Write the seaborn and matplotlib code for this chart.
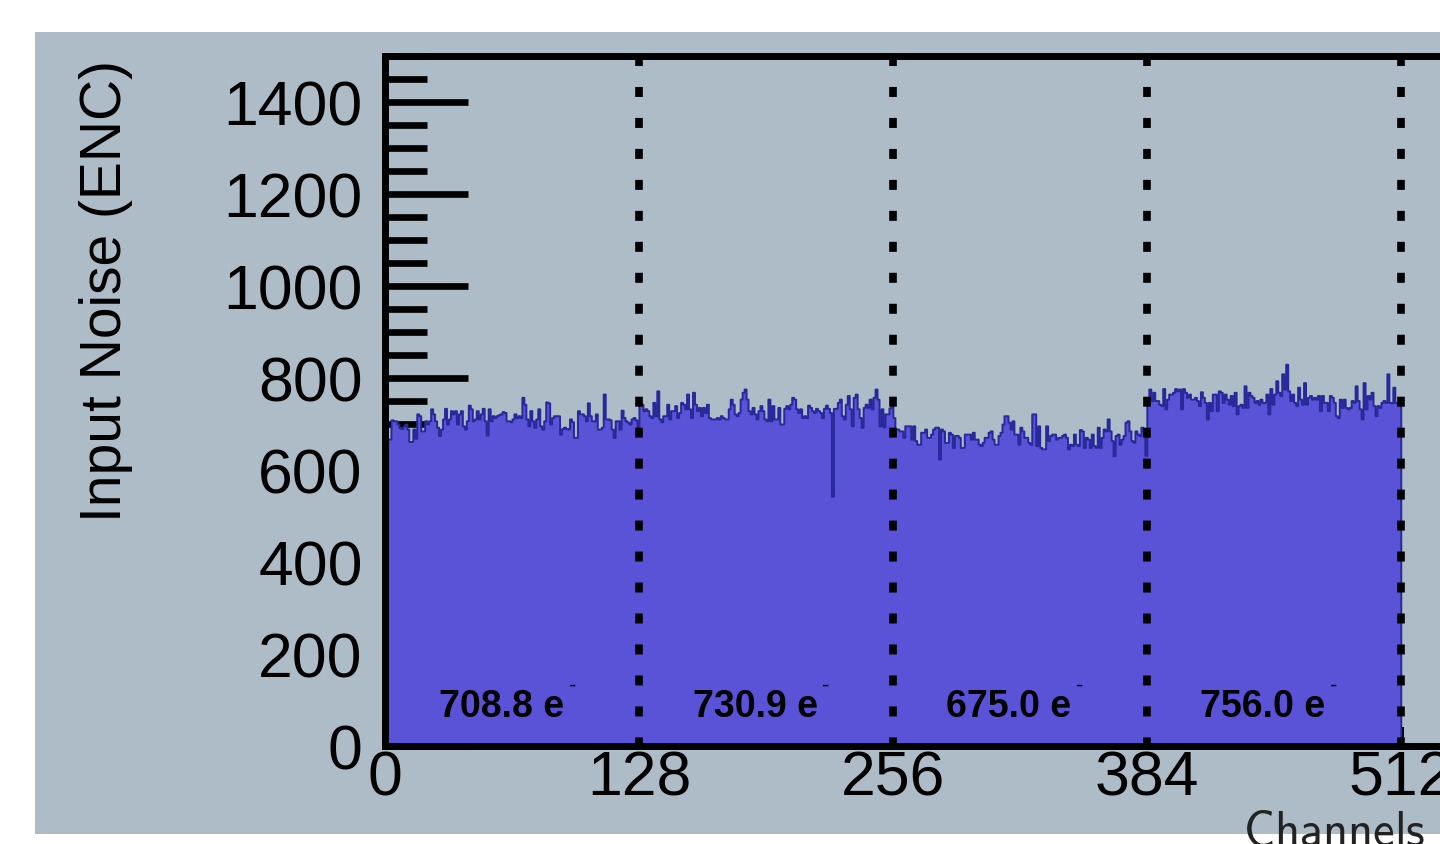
import numpy as np
import pandas as pd
import matplotlib
matplotlib.use("Agg")
import matplotlib.pyplot as plt
import seaborn as sns
from matplotlib.patches import Rectangle
from matplotlib.ticker import MultipleLocator

# ---- data: input noise (ENC) per channel, four 128-channel chips ----
noise_chip1 = [
    670, 667, 667, 709, 707, 707, 700, 692, 690, 695, 700, 689, 662, 662, 689, 669,
    722, 718, 685, 685, 707, 700, 707, 733, 722, 707, 693, 675, 689, 711, 734, 700,
    711, 729, 722, 729, 700, 722, 729, 696, 689, 707, 741, 733, 707, 711, 729, 711,
    722, 734, 707, 676, 733, 707, 718, 714, 718, 720, 722, 727, 725, 707, 707, 705,
    711, 722, 714, 718, 714, 758, 743, 711, 696, 729, 707, 693, 711, 733, 696, 689,
    707, 748, 746, 700, 714, 718, 718, 718, 678, 690, 693, 690, 689, 711, 705, 671,
    671, 729, 722, 722, 718, 707, 746, 718, 707, 707, 722, 689, 689, 693, 765, 711,
    711, 709, 689, 671, 707, 707, 689, 730, 714, 707, 704, 700, 711, 714, 709, 682,
]
noise_chip2 = [
    751, 743, 729, 733, 729, 718, 714, 747, 718, 772, 711, 705, 718, 718, 743, 711,
    729, 729, 740, 714, 725, 747, 743, 733, 765, 733, 714, 769, 743, 729, 736, 718,
    736, 725, 743, 714, 711, 711, 711, 714, 711, 718, 714, 711, 711, 733, 754, 743,
    722, 718, 725, 754, 769, 776, 754, 729, 722, 736, 722, 711, 729, 740, 729, 711,
    707, 754, 707, 740, 711, 711, 736, 700, 700, 734, 740, 733, 743, 758, 754, 733,
    725, 733, 714, 718, 714, 741, 736, 729, 725, 734, 729, 725, 714, 734, 741, 734,
    725, 543, 734, 734, 747, 754, 718, 711, 743, 762, 733, 696, 758, 765, 733, 714,
    693, 736, 743, 736, 754, 733, 758, 776, 754, 696, 733, 694, 722, 722, 735, 752,
]
noise_chip3 = [
    714, 689, 689, 685, 685, 671, 696, 696, 696, 667, 696, 664, 656, 656, 682, 682,
    689, 671, 671, 678, 689, 693, 693, 624, 689, 685, 660, 660, 682, 678, 649, 675,
    675, 671, 649, 649, 678, 678, 678, 667, 682, 667, 667, 656, 653, 660, 671, 671,
    682, 685, 667, 656, 656, 675, 682, 700, 718, 718, 704, 689, 707, 678, 678, 656,
    693, 685, 671, 671, 660, 656, 722, 722, 653, 696, 649, 646, 646, 696, 664, 675,
    678, 678, 667, 671, 671, 675, 678, 671, 646, 656, 653, 678, 656, 653, 688, 685,
    649, 671, 667, 649, 678, 653, 649, 693, 649, 671, 689, 685, 711, 685, 664, 631,
    675, 678, 656, 667, 675, 704, 707, 685, 664, 660, 685, 678, 675, 693, 685, 632,
]
noise_chip4 = [
    754, 776, 751, 769, 751, 751, 743, 740, 777, 733, 754, 765, 765, 769, 777, 772,
    776, 733, 777, 769, 758, 765, 754, 754, 758, 751, 740, 770, 758, 747, 711, 747,
    729, 765, 765, 729, 772, 769, 747, 765, 754, 743, 762, 740, 769, 722, 740, 743,
    736, 783, 736, 769, 762, 758, 747, 751, 743, 754, 747, 747, 765, 722, 777, 743,
    765, 794, 769, 762, 809, 776, 830, 772, 751, 765, 747, 740, 780, 754, 743, 790,
    743, 758, 762, 754, 758, 754, 762, 729, 762, 747, 747, 729, 762, 758, 747, 718,
    714, 754, 736, 754, 736, 733, 736, 751, 747, 783, 751, 733, 711, 790, 733, 762,
    754, 769, 740, 718, 740, 736, 747, 751, 747, 809, 747, 746, 780, 747, 747, 747,
]
chip_means = ["708.8", "730.9", "675.0", "756.0"]
chip_bounds = [128, 256, 384, 512]
x_ticks = [0, 128, 256, 384, 512]
y_ticks = [0, 200, 400, 600, 800, 1000, 1200, 1400]

noise = noise_chip1 + noise_chip2 + noise_chip3 + noise_chip4
df = pd.DataFrame({"channel": np.arange(len(noise)) + 0.5, "noise": noise})

# ---- style ----
sns.set_style("ticks")
plt.rcParams["font.family"] = ["Liberation Sans", "DejaVu Sans"]
plt.rcParams["mathtext.fontset"] = "cm"
plt.rcParams["lines.scale_dashes"] = False

W, H = 1440, 845
fig = plt.figure(figsize=(W / 100, H / 100), dpi=100, facecolor="white")
fig.patches.append(Rectangle((35 / W, 10 / H), 1.0, 802 / H, transform=fig.transFigure,
                             facecolor="#adbcc6", edgecolor="none", zorder=-10))
ax = fig.add_axes([385 / W, 98 / H, 1111 / W, 690 / H])
ax.set_facecolor("none")

sns.histplot(data=df, x="channel", weights="noise", binwidth=1, binrange=(0, len(noise)),
             element="step", fill=True, facecolor="#5a52d7", edgecolor="#28289a",
             linewidth=1.4, ax=ax)

ax.set_xlim(0, 560)
ax.set_ylim(0, 1500)
ax.set_xlabel("")
ax.set_ylabel("")

for s in ax.spines.values():
    s.set_linewidth(5)
    s.set_color("black")

ax.set_xticks(x_ticks)
ax.set_yticks(y_ticks)
ax.yaxis.set_minor_locator(MultipleLocator(50))
ax.tick_params(axis="y", which="major", direction="in", length=60, width=4.8,
               labelsize=45, pad=16, colors="black")
ax.tick_params(axis="y", which="minor", direction="in", length=30, width=4.8,
               color="black")
ax.tick_params(axis="x", which="major", direction="in", length=14, width=4.3,
               labelsize=45, pad=2, colors="black")
ax.tick_params(axis="x", which="minor", bottom=False)
for lab in ax.get_xticklabels():
    if lab.get_text() == "0":
        lab.set_x(-4)

# chip boundary dotted lines
for b in chip_bounds:
    ax.plot([b, b], [1500, 0], color="black", lw=5.5, linestyle=(0, (7.2, 15.1)),
            dash_capstyle="butt", zorder=3, clip_on=False)

# per-chip mean labels
starts = [0] + chip_bounds[:-1]
for st, lab in zip(starts, chip_means):
    t = ax.text(st + 27, 65, f"{lab} e", fontsize=27, fontweight="bold",
                ha="left", va="baseline", color="black", zorder=4)
    ax.annotate("-", xy=(1, 1), xycoords=t, xytext=(3.5, -2), textcoords="offset points",
                ha="left", va="baseline", fontsize=16, color="black", zorder=4)

fig.text(106 / W, 1 - 60 / H, "Input Noise (ENC)", rotation=90, ha="center", va="top",
         fontsize=41, color="black")
fig.text(1425 / W, -1 / H, r"$\mathsf{Channels}$", ha="right", va="baseline",
         fontsize=35, color="#222222")

fig.savefig("out.png", dpi=100)
